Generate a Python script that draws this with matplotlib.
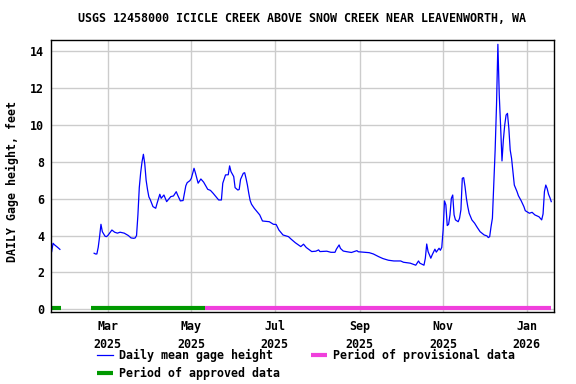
import matplotlib
matplotlib.use('Agg')
import matplotlib.pyplot as plt
import matplotlib.dates as mdates
from matplotlib.lines import Line2D
import numpy as np
import pandas as pd

# Daily mean gage height (feet)
dates = [
    "2025-01-19", "2025-01-20", "2025-01-21", "2025-01-23", "2025-01-25",
    "2025-02-05",
    "2025-02-19", "2025-02-20", "2025-02-21", "2025-02-22", "2025-02-23", "2025-02-24",
    "2025-02-25", "2025-02-26", "2025-02-27", "2025-02-28", "2025-03-01", "2025-03-03",
    "2025-03-04", "2025-03-06", "2025-03-08", "2025-03-10", "2025-03-13", "2025-03-16",
    "2025-03-18", "2025-03-20", "2025-03-21", "2025-03-22", "2025-03-23", "2025-03-24",
    "2025-03-25", "2025-03-26", "2025-03-27", "2025-03-28", "2025-03-29", "2025-03-30",
    "2025-03-31", "2025-04-01", "2025-04-03", "2025-04-05", "2025-04-06", "2025-04-08",
    "2025-04-09", "2025-04-11", "2025-04-13", "2025-04-16", "2025-04-18", "2025-04-20",
    "2025-04-21", "2025-04-23", "2025-04-25", "2025-04-26", "2025-04-27", "2025-04-28",
    "2025-04-30", "2025-05-01", "2025-05-02", "2025-05-03", "2025-05-04", "2025-05-06",
    "2025-05-08", "2025-05-10", "2025-05-13", "2025-05-15", "2025-05-17", "2025-05-20",
    "2025-05-21", "2025-05-23", "2025-05-24", "2025-05-26", "2025-05-28", "2025-05-29",
    "2025-05-30", "2025-06-01", "2025-06-02", "2025-06-04", "2025-06-05", "2025-06-06",
    "2025-06-08", "2025-06-09", "2025-06-10", "2025-06-11", "2025-06-12", "2025-06-13",
    "2025-06-14", "2025-06-16", "2025-06-18", "2025-06-20", "2025-06-22", "2025-06-27",
    "2025-06-30", "2025-07-02", "2025-07-04", "2025-07-07", "2025-07-11", "2025-07-13",
    "2025-07-16", "2025-07-20", "2025-07-22", "2025-07-24", "2025-07-28", "2025-07-31",
    "2025-08-02", "2025-08-03", "2025-08-08", "2025-08-11", "2025-08-14", "2025-08-15",
    "2025-08-17", "2025-08-18", "2025-08-20", "2025-08-22", "2025-08-26", "2025-08-30",
    "2025-08-31", "2025-09-08", "2025-09-11", "2025-09-15", "2025-09-18", "2025-09-22",
    "2025-09-26", "2025-10-01", "2025-10-03", "2025-10-08", "2025-10-12", "2025-10-14",
    "2025-10-15", "2025-10-18", "2025-10-19", "2025-10-20", "2025-10-21", "2025-10-23",
    "2025-10-24", "2025-10-26", "2025-10-27", "2025-10-29", "2025-10-30", "2025-10-31",
    "2025-11-01", "2025-11-02", "2025-11-03", "2025-11-04", "2025-11-05", "2025-11-06",
    "2025-11-07", "2025-11-08", "2025-11-09", "2025-11-10", "2025-11-12", "2025-11-13",
    "2025-11-14", "2025-11-15", "2025-11-16", "2025-11-17", "2025-11-18", "2025-11-19",
    "2025-11-20", "2025-11-22", "2025-11-24", "2025-11-26", "2025-11-28", "2025-12-01",
    "2025-12-03", "2025-12-04", "2025-12-05", "2025-12-06", "2025-12-07", "2025-12-08",
    "2025-12-09", "2025-12-10", "2025-12-11", "2025-12-12", "2025-12-13", "2025-12-14",
    "2025-12-15", "2025-12-16", "2025-12-17", "2025-12-18", "2025-12-19", "2025-12-20",
    "2025-12-21", "2025-12-22", "2025-12-23", "2025-12-25", "2025-12-26", "2025-12-28",
    "2025-12-30", "2025-12-31", "2026-01-03", "2026-01-05", "2026-01-07", "2026-01-10",
    "2026-01-12", "2026-01-13", "2026-01-14", "2026-01-15", "2026-01-16", "2026-01-17",
    "2026-01-18", "2026-01-19",
]
gage_height = [
    3.13, 3.58, 3.50, 3.38, 3.25,
    np.nan,
    3.04, 3.00, 3.00, 3.36, 3.94, 4.61,
    4.21, 4.08, 3.96, 3.94, 4.00, 4.20,
    4.30, 4.18, 4.13, 4.18, 4.13, 4.00,
    3.87, 3.85, 3.87, 4.00, 5.12, 6.60,
    7.40, 8.00, 8.41, 7.90, 7.00, 6.50,
    6.10, 5.95, 5.57, 5.48, 5.75, 6.24,
    6.02, 6.20, 5.84, 6.11, 6.15, 6.38,
    6.20, 5.88, 5.90, 6.30, 6.70, 6.87,
    6.98, 7.10, 7.38, 7.65, 7.40, 6.84,
    7.07, 6.90, 6.51, 6.45, 6.29, 6.02,
    5.93, 5.93, 6.84, 7.29, 7.30, 7.78,
    7.47, 7.20, 6.60, 6.47, 6.50, 7.05,
    7.38, 7.41, 7.10, 6.74, 6.29, 5.90,
    5.70, 5.48, 5.30, 5.12, 4.79, 4.75,
    4.61, 4.60, 4.30, 4.03, 3.94, 3.80,
    3.61, 3.40, 3.53, 3.35, 3.13, 3.15,
    3.22, 3.13, 3.15, 3.09, 3.09, 3.26,
    3.49, 3.30, 3.16, 3.13, 3.08, 3.18,
    3.12, 3.07, 3.00, 2.85, 2.75, 2.66,
    2.62, 2.62, 2.55, 2.50, 2.39, 2.62,
    2.50, 2.39, 2.77, 3.54, 3.13, 2.77,
    2.95, 3.26, 3.10, 3.31, 3.20, 3.36,
    4.30, 5.88, 5.66, 4.54, 4.61, 5.12,
    6.02, 6.20, 5.12, 4.85, 4.75, 4.94,
    5.40, 7.11, 7.14, 6.65, 6.02, 5.57,
    5.21, 4.85, 4.67, 4.43, 4.21, 4.03,
    3.98, 3.89, 3.94, 4.48, 4.94, 6.74,
    8.64, 11.08, 14.38, 11.63, 9.91, 8.05,
    9.19, 10.00, 10.54, 10.63, 9.82, 8.64,
    8.19, 7.47, 6.74, 6.38, 6.16, 5.89,
    5.57, 5.35, 5.21, 5.26, 5.12, 5.02,
    4.85, 5.17, 6.38, 6.74, 6.55, 6.24,
    6.06, 5.84,
]

# data-quality periods (start, end)
approved_periods = [("2025-01-18", "2025-01-26"), ("2025-02-17", "2025-05-11")]
provisional_periods = [("2025-05-11", "2026-01-19")]

title = "USGS 12458000 ICICLE CREEK ABOVE SNOW CREEK NEAR LEAVENWORTH, WA"
ylabel = "DAILY Gage height, feet"

mono = ["DejaVu Sans Mono"]
plt.rcParams['font.family'] = mono
plt.rcParams['font.weight'] = 'bold'
plt.rcParams['font.size'] = 8.4

blue = '#0000ff'
green = '#009900'
pink = '#f040dc'

fig = plt.figure(figsize=(5.76, 3.84), dpi=100)
ax = fig.add_axes([51 / 576, 1 - 312 / 384, 503 / 576, 272.5 / 384])

x = pd.to_datetime(dates)
ax.plot(x, gage_height, color=blue, linewidth=0.9)

# period bars sit just above zero
for start, end in approved_periods:
    ax.plot(pd.to_datetime([start, end]), [0.08, 0.08], color=green,
            linewidth=3.0, solid_capstyle='butt')
for start, end in provisional_periods:
    ax.plot(pd.to_datetime([start, end]), [0.08, 0.08], color=pink,
            linewidth=3.0, solid_capstyle='butt')

ax.set_xlim(pd.Timestamp("2025-01-18 12:00"), pd.Timestamp("2026-01-21"))
ax.set_ylim(-0.15, 14.64)
ax.set_yticks(np.arange(0, 15, 2))
ax.xaxis.set_major_locator(mdates.MonthLocator(bymonth=[1, 3, 5, 7, 9, 11]))
ax.xaxis.set_major_formatter(mdates.DateFormatter('%b\n%Y'))
ax.tick_params(axis='both', length=0)
ax.tick_params(axis='y', pad=5)
ax.tick_params(axis='x', pad=6)
for lbl in ax.get_xticklabels():
    lbl.set_linespacing(1.45)

ax.grid(True, color='#cccccc', linewidth=1.0)
ax.set_axisbelow(True)
for sp in ax.spines.values():
    sp.set_linewidth(1.0)
    sp.set_color('black')

fig.text(302.5 / 576, 1 - 19 / 384, title, ha='center', va='center',
         fontsize=8.4, fontweight='bold')
fig.text(12 / 576, 1 - 181 / 384, ylabel, rotation=90, ha='center',
         va='center', fontsize=8.4, fontweight='bold')

handles = [
    Line2D([], [], color=blue, linewidth=0.9),
    Line2D([], [], color=green, linewidth=3.0, solid_capstyle='butt'),
    Line2D([], [], color=pink, linewidth=3.0, solid_capstyle='butt'),
]
labels = ["Daily mean gage height", "Period of approved data",
          "Period of provisional data"]
fig.legend(handles, labels, ncol=2, loc='upper left',
           bbox_to_anchor=(97 / 576, 1 - 349 / 384), frameon=False,
           borderpad=0, borderaxespad=0, handlelength=1.4,
           handletextpad=0.5, columnspacing=2.6, labelspacing=0.45,
           prop={'family': mono, 'weight': 'bold', 'size': 8.4})

fig.savefig('out.png', dpi=100)
